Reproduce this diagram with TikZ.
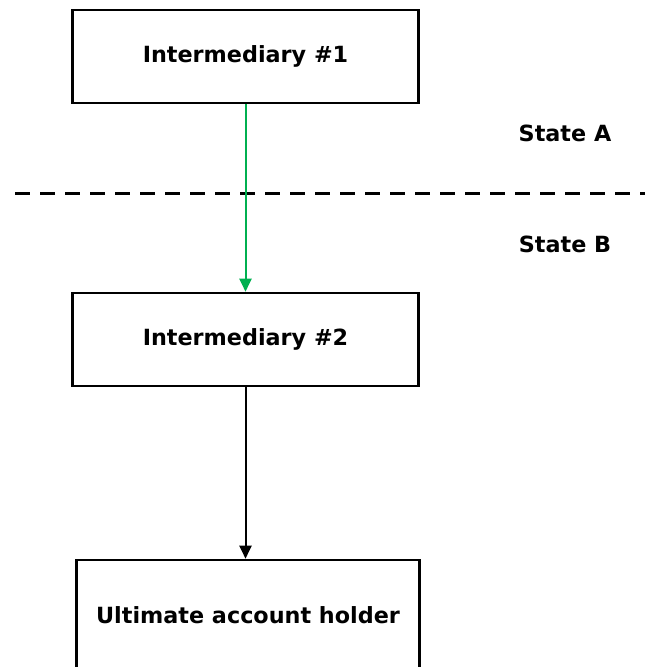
\documentclass[tikz,border=0pt]{standalone}
\usepackage{fontspec}
\setmainfont{DejaVu Sans}
\usetikzlibrary{arrows.meta}
\definecolor{arrowgreen}{RGB}{0,176,80}
\begin{document}
\begin{tikzpicture}[x=1pt,y=-1pt,
  boxnode/.style={draw=black,line width=2.6pt,minimum width=346pt,minimum height=93pt,inner sep=0pt,font=\fontsize{22.3}{26}\selectfont\bfseries},
  statelabel/.style={font=\fontsize{22.3}{26}\selectfont\bfseries},
  flow/.style={line width=2pt,-{Triangle[length=13pt,width=12pt]}}]
\useasboundingbox (0,0) rectangle (645,667);
\node[boxnode] (i1) at (245.5,56.5) {Intermediary \#1};
\node[boxnode] (i2) at (245.5,339.5) {Intermediary \#2};
\node[boxnode,minimum width=343pt,minimum height=110pt] (u) at (248,615) {Ultimate account holder};
\coordinate (dl) at (15,193);
\coordinate (dr) at (645,193);
\draw[line width=3pt,dash pattern=on 15pt off 10pt] (dl) -- (dr);
\node[statelabel] (sa) at (565,133) {State A};
\node[statelabel] (sb) at (565,244) {State B};
\draw[flow,arrowgreen] (i1.south) -- (i2.north);
\draw[flow,black] (i2.south) -- (i2.south |- u.north);
\end{tikzpicture}
\end{document}
